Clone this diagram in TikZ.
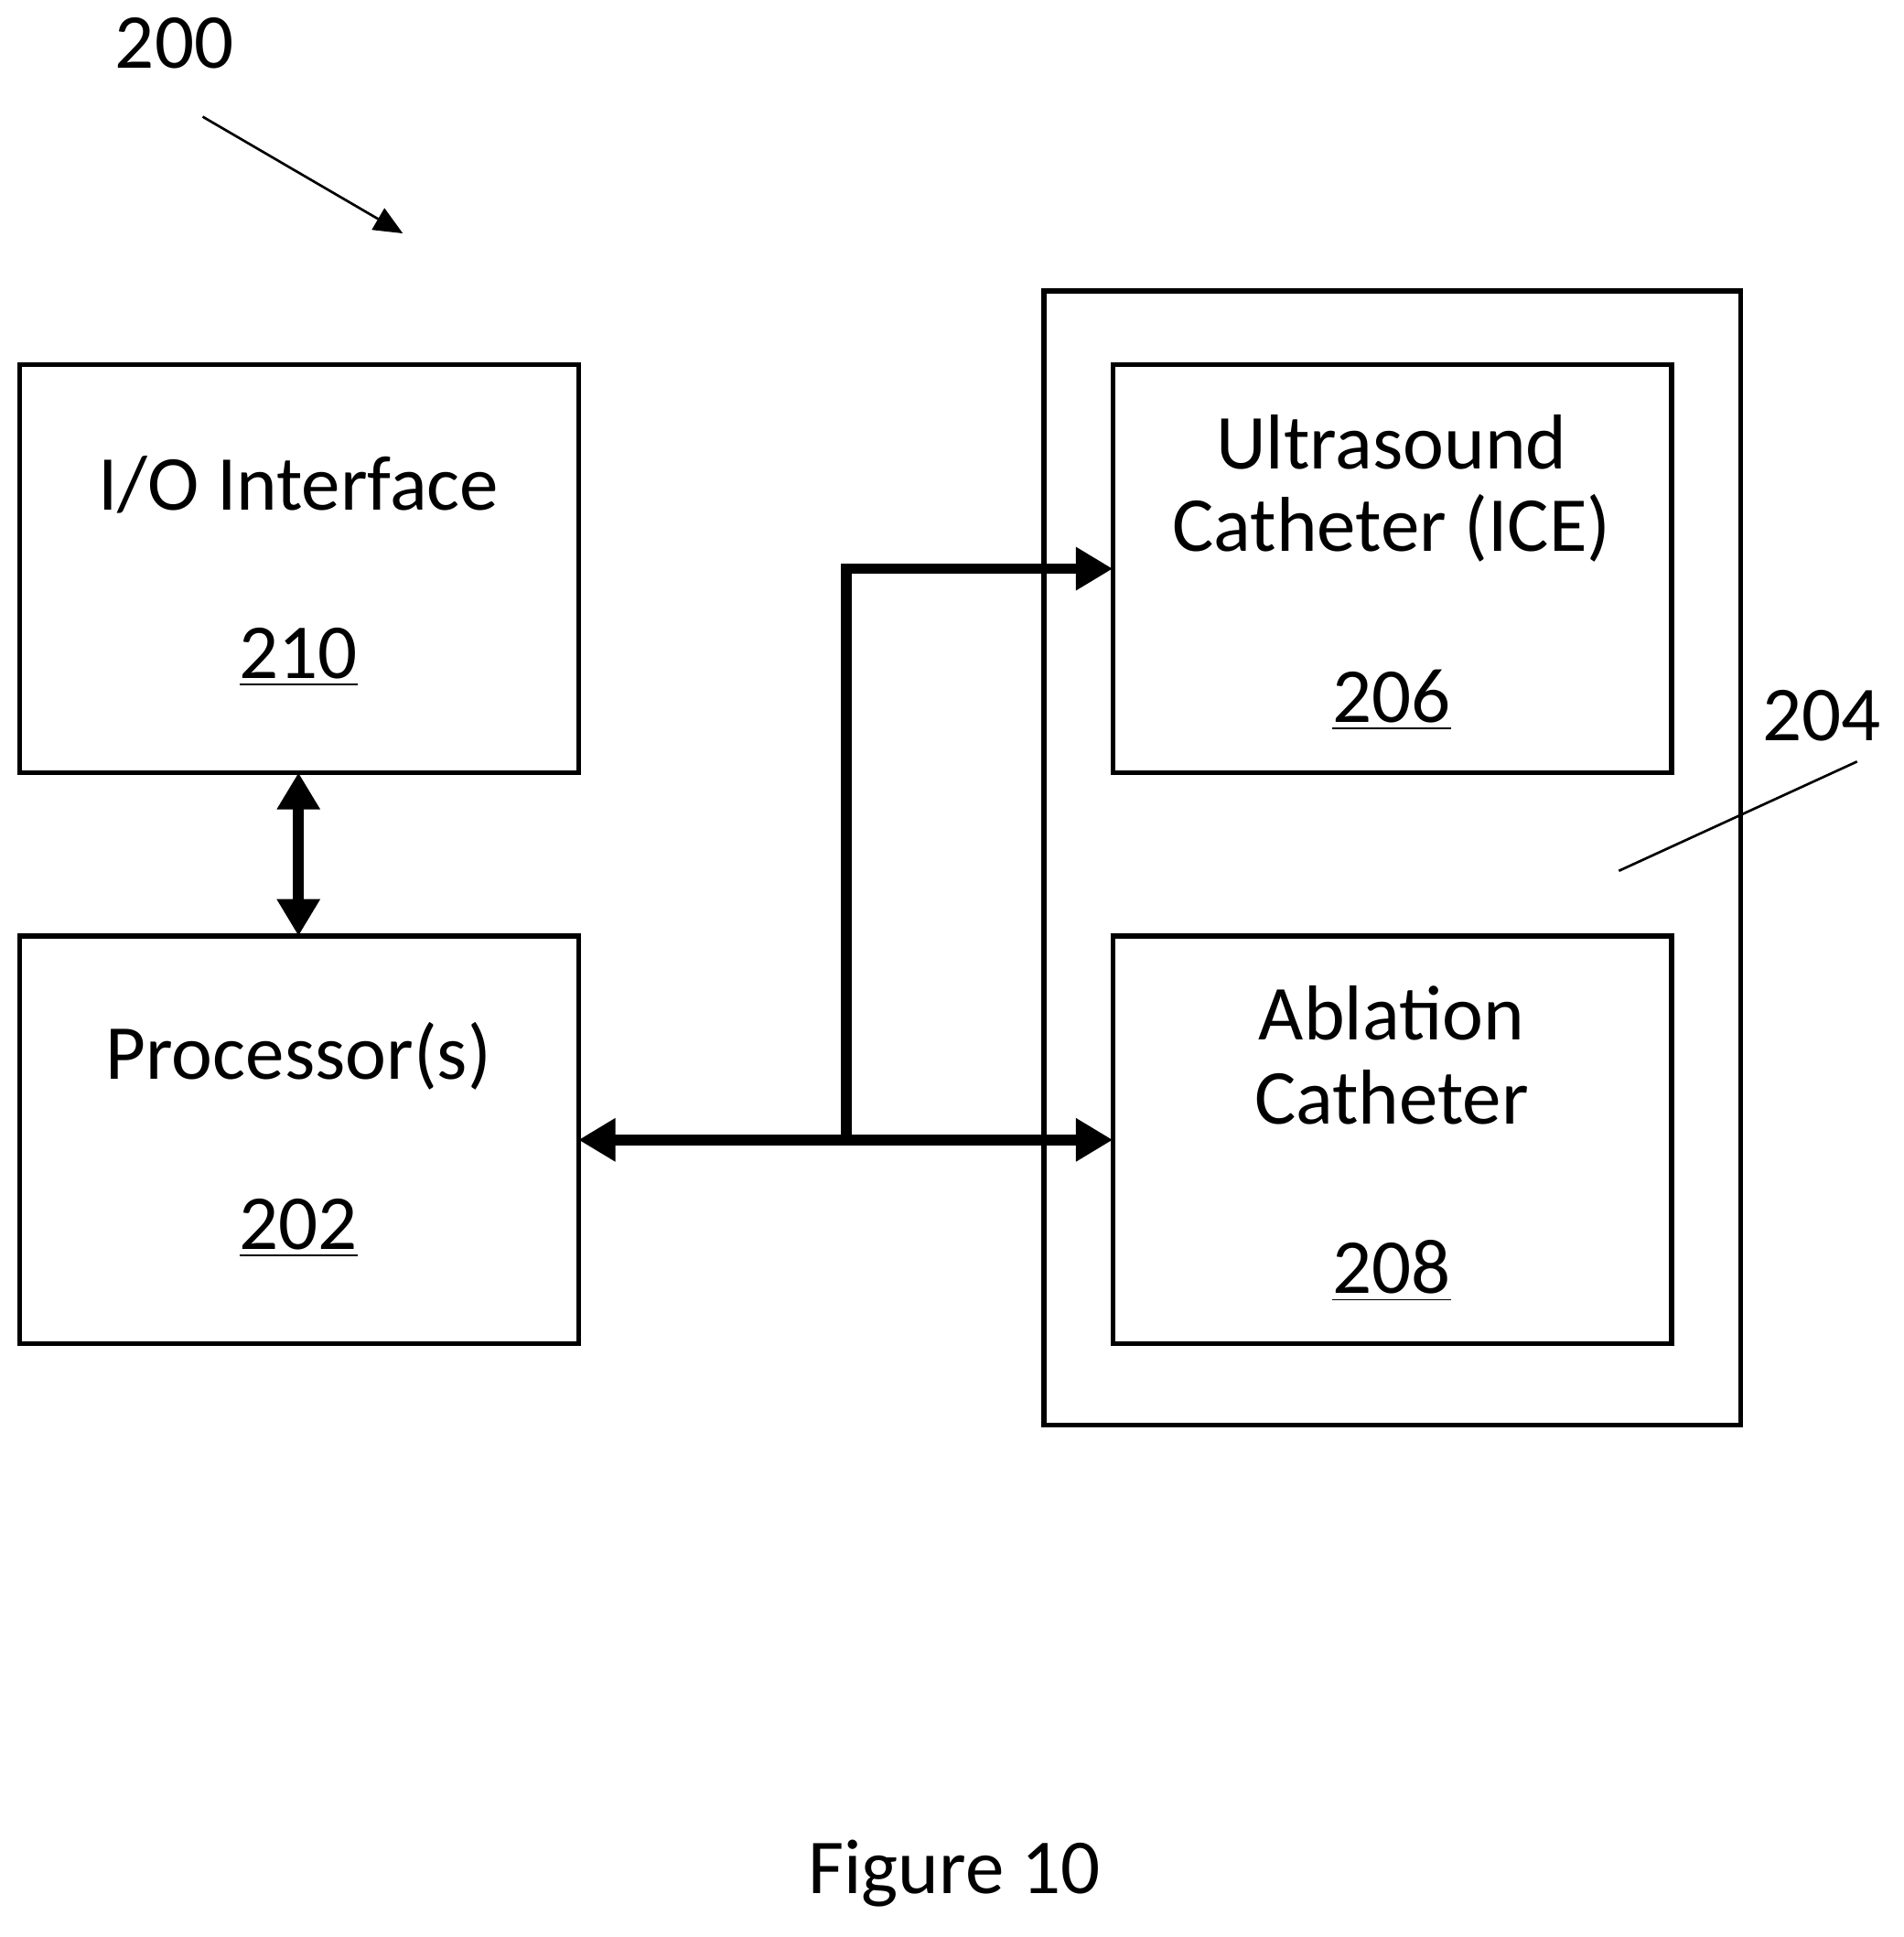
\documentclass[tikz,border=0pt]{standalone}
\usepackage{fontspec}
\setmainfont{Carlito}
\usetikzlibrary{arrows.meta}
\begin{document}
\begin{tikzpicture}[x=0.3pt,y=-0.3pt,
  box/.style={draw,line width=1.2pt},
  lbl/.style={font=\fontsize{19}{22}\selectfont,inner sep=0pt},
  thick arrow/.style={line width=2.6pt,-{Triangle[length=9pt,width=10pt]}},
  thin/.style={line width=0.6pt}]
\useasboundingbox (0,0) rectangle (1550,1577);
\draw[box] (16,297) rectangle (471,629);
\draw[box] (16,762) rectangle (471,1094);
\draw[box] (850,237) rectangle (1417,1160);
\draw[box] (906,297) rectangle (1361,629);
\draw[box] (906,762) rectangle (1361,1094);
\node[lbl] (t200) at (142,35) {200};
\node[lbl] (io) at (243,395) {I/O Interface};
\node[lbl] (n210) at (243,535) {\underline{210}};
\node[lbl] (pr) at (243,860) {Processor(s)};
\node[lbl] (n202) at (243,1000) {\underline{202}};
\node[lbl] (us) at (1133,360) {Ultrasound};
\node[lbl] (ice) at (1133,430) {Catheter (ICE)};
\node[lbl] (n206) at (1133,570) {\underline{206}};
\node[lbl] (ab) at (1133,825) {Ablation};
\node[lbl] (cat) at (1133,893) {Catheter};
\node[lbl] (n208) at (1133,1035) {\underline{208}};
\node[lbl] (t204) at (1483,583) {204};
\node[lbl] (fig) at (777,1525) {Figure 10};
\coordinate (a1) at (165,95); \coordinate (a2) at (328,190);
\draw[thin,-{Triangle[length=7pt,width=6pt]}] (a1) -- (a2);
\coordinate (b1) at (1512,620); \coordinate (b2) at (1318,709);
\draw[thin] (b1) -- (b2);
\coordinate (io1) at (243,629); \coordinate (io2) at (243,762);
\draw[line width=2.6pt,{Triangle[length=9pt,width=10pt]}-{Triangle[length=9pt,width=10pt]}] (io1) -- (io2);
\coordinate (j) at (689,928); \coordinate (p) at (471,928);
\coordinate (q) at (906,928); \coordinate (r) at (689,463); \coordinate (s) at (906,463);
\draw[thick arrow] (j) -- (p);
\draw[thick arrow] (j) -- (q);
\draw[thick arrow] (j) -- (r) -- (s);
\end{tikzpicture}
\end{document}
